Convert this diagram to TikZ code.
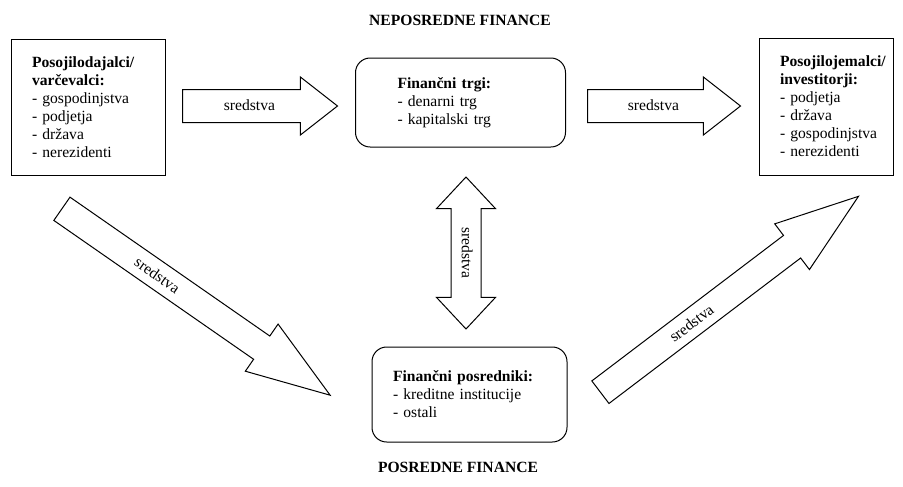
\documentclass[tikz,border=0pt]{standalone}
\usepackage{fontspec}
\setmainfont{Liberation Serif}
\usetikzlibrary{shapes.arrows,calc}
\hyphenpenalty=10000
\exhyphenpenalty=10000

\tikzset{every picture/.style={line width=0.75pt}}
\tikzset{
  txt/.style={font=\fontsize{11.7}{13.5}\selectfont},
  sector/.style={txt, draw, rectangle, align=left, inner ysep=0pt},
  market/.style={sector, rounded corners=11pt},
  flow/.style={txt, draw, single arrow, inner xsep=2pt, inner ysep=0pt, text height=15pt, text depth=9pt, single arrow head extend=9.4pt, single arrow tip angle=76},
  slant/.style={flow, text height=13.5pt, text depth=7pt, single arrow head extend=10.9pt, single arrow tip angle=38},
  twoway/.style={txt, draw, double arrow, inner xsep=2pt, inner ysep=0pt, text height=14pt, text depth=7.75pt, double arrow head extend=10.9pt, double arrow tip angle=86}
}

\begin{document}
\begin{tikzpicture}[x=0.75pt,y=0.75pt,yscale=-1,xscale=1]
	\useasboundingbox (0,0) rectangle (903,486);

	% Text Node
	\node [txt] (direct) at (460,20) {\textbf{NEPOSREDNE FINANCE}};
	% Text Node
	\node [txt] (indirect) at (458,467) {\textbf{POSREDNE FINANCE}};

	%Shape: Rectangle [lenders]
	\node [sector, text width=84pt, inner xsep=15.75pt, minimum height=102pt] (lenders) at (88,107) {\textbf{Posojilodajalci/}\\\textbf{varčevalci:}\\- gospodinjstva\\- podjetja\\- država\\- nerezidenti};
	%Shape: Rectangle [borrowers]
	\node [sector, text width=69pt, inner xsep=15.75pt, minimum height=102.75pt] (borrowers) at (826,106.5) {\textbf{Posojilojemalci/}\\\textbf{investitorji:}\\- podjetja\\- država\\-~gospodinjstva\\- nerezidenti};
	%Rounded Rect [markets]
	\node [market, text width=94.5pt, inner xsep=31.5pt, minimum height=66.75pt] (markets) at (460.5,102.5) {\textbf{Finančni trgi:}\\- denarni trg\\- kapitalski trg};
	%Rounded Rect [brokers]
	\node [market, text width=114.75pt, inner xsep=15.75pt, minimum height=71.25pt] (brokers) at (469.5,394.5) {\textbf{Finančni posredniki:}\\- kreditne institucije\\- ostali};

	%Right Arrow
	\node [flow, minimum height=116.25pt, anchor=tail] (toMarkets) at (182,106) {sredstva};
	%Right Arrow
	\node [flow, minimum height=114.75pt, anchor=tail] (toBorrowers) at (587,106) {sredstva};
	%Up Down Arrow
	\node [twoway, rotate=-90, minimum height=114pt] (between) at (466,253) {sredstva};
	%Right Arrow (slanted)
	\node [slant, rotate=-34.8, minimum height=245pt, anchor=tail] (toBrokers) at (61.5,208.5) {};
	\node [txt, rotate=-34.8] (toBrokersLbl) at ($(toBrokers.tail)!0.355!(toBrokers.tip)$) {sredstva};
	%Right Arrow (slanted)
	\node [slant, rotate=37.2, minimum height=243pt, anchor=tail] (fromBrokers) at (600,392.5) {};
	\node [txt, rotate=37.2] (fromBrokersLbl) at ($(fromBrokers.tail)!0.352!(fromBrokers.tip)$) {sredstva};

\end{tikzpicture}
\end{document}
